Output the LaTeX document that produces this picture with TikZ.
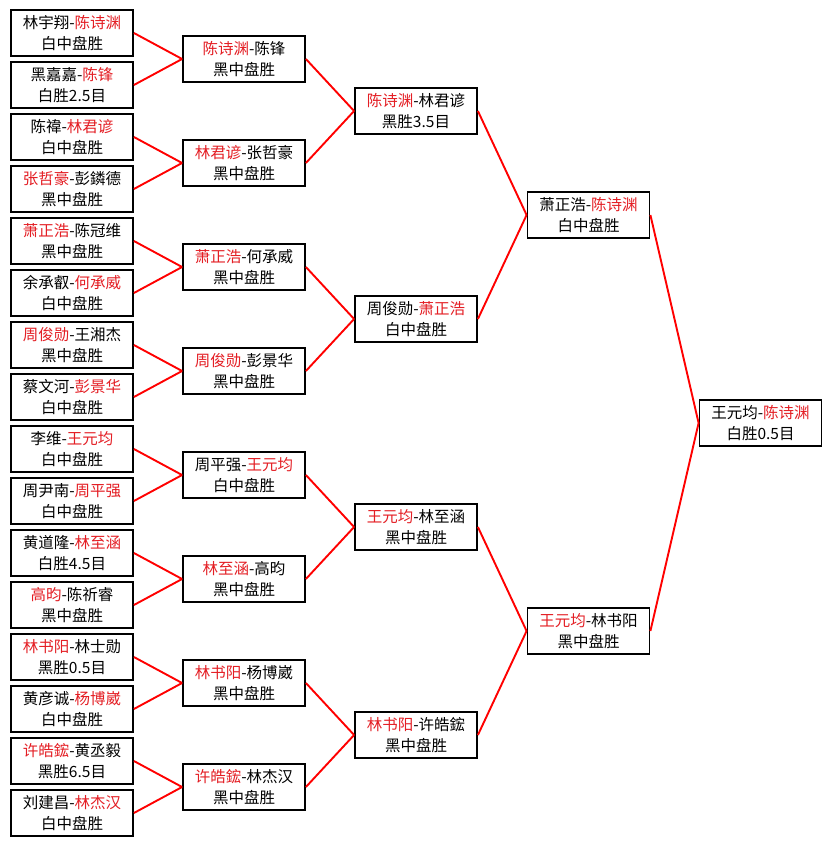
\documentclass[tikz,border=0pt]{standalone}
\usepackage{fontspec}
\setmainfont{Noto Sans CJK SC}
\usepackage{xcolor}
\usepackage{tikz}

\definecolor{winred}{RGB}{228,30,36}
\newcommand{\win}[1]{\textcolor{winred}{#1}}

\begin{document}
\begin{tikzpicture}[x=1pt,y=-1pt,
		match/.style={draw=black,line width=1.8pt,fill=white,align=center,
			minimum width=122pt,minimum height=46pt,inner sep=0pt,
			font=\fontsize{15.5pt}{20.5pt}\selectfont},
		link/.style={draw=red,line width=1.9pt}]
		\useasboundingbox (0, 0) rectangle (832, 845);

		% first round
		\node[match] at (72, 33) (r1-1) {林宇翔-\win{陈诗渊} \\ 白中盘胜};
		\node[match] at (72, 85) (r1-2) {黑嘉嘉-\win{陈锋} \\ 白胜2.5目};
		\node[match] at (72, 137) (r1-3) {陈禕-\win{林君谚} \\ 白中盘胜};
		\node[match] at (72, 189) (r1-4) {\win{张哲豪}-彭鏻德 \\ 黑中盘胜};
		\node[match] at (72, 241) (r1-5) {\win{萧正浩}-陈冠维 \\ 黑中盘胜};
		\node[match] at (72, 293) (r1-6) {余承叡-\win{何承威} \\ 白中盘胜};
		\node[match] at (72, 345) (r1-7) {\win{周俊勋}-王湘杰 \\ 黑中盘胜};
		\node[match] at (72, 397) (r1-8) {蔡文河-\win{彭景华} \\ 白中盘胜};
		\node[match] at (72, 449) (r1-9) {李维-\win{王元均} \\ 白中盘胜};
		\node[match] at (72, 501) (r1-10) {周尹南-\win{周平强} \\ 白中盘胜};
		\node[match] at (72, 553) (r1-11) {黄道隆-\win{林至涵} \\ 白胜4.5目};
		\node[match] at (72, 605) (r1-12) {\win{高昀}-陈祈睿 \\ 黑中盘胜};
		\node[match] at (72, 657) (r1-13) {\win{林书阳}-林士勋 \\ 黑胜0.5目};
		\node[match] at (72, 709) (r1-14) {黄彦诚-\win{杨博崴} \\ 白中盘胜};
		\node[match] at (72, 761) (r1-15) {\win{许皓鋐}-黄丞毅 \\ 黑胜6.5目};
		\node[match] at (72, 813) (r1-16) {刘建昌-\win{林杰汉} \\ 白中盘胜};

		% second round
		\node[match] at (244, 59) (r2-1) {\win{陈诗渊}-陈锋 \\ 黑中盘胜};
		\node[match] at (244, 163) (r2-2) {\win{林君谚}-张哲豪 \\ 黑中盘胜};
		\node[match] at (244, 267) (r2-3) {\win{萧正浩}-何承威 \\ 黑中盘胜};
		\node[match] at (244, 371) (r2-4) {\win{周俊勋}-彭景华 \\ 黑中盘胜};
		\node[match] at (244, 475) (r2-5) {周平强-\win{王元均} \\ 白中盘胜};
		\node[match] at (244, 579) (r2-6) {\win{林至涵}-高昀 \\ 黑中盘胜};
		\node[match] at (244, 683) (r2-7) {\win{林书阳}-杨博崴 \\ 黑中盘胜};
		\node[match] at (244, 787) (r2-8) {\win{许皓鋐}-林杰汉 \\ 黑中盘胜};

		% quarter finals
		\node[match] at (416, 111) (r3-1) {\win{陈诗渊}-林君谚 \\ 黑胜3.5目};
		\node[match] at (416, 319) (r3-2) {周俊勋-\win{萧正浩} \\ 白中盘胜};
		\node[match] at (416, 527) (r3-3) {\win{王元均}-林至涵 \\ 黑中盘胜};
		\node[match] at (416, 735) (r3-4) {\win{林书阳}-许皓鋐 \\ 黑中盘胜};

		% semi finals and final
		\node[match] at (588.5, 215) (r4-1) {萧正浩-\win{陈诗渊} \\ 白中盘胜};
		\node[match] at (588.5, 631) (r4-2) {\win{王元均}-林书阳 \\ 黑中盘胜};
		\node[match] at (760.5, 423) (final) {王元均-\win{陈诗渊} \\ 白胜0.5目};

		\draw[link] (r1-1.east) -- (r2-1.west);
		\draw[link] (r1-2.east) -- (r2-1.west);
		\draw[link] (r1-3.east) -- (r2-2.west);
		\draw[link] (r1-4.east) -- (r2-2.west);
		\draw[link] (r1-5.east) -- (r2-3.west);
		\draw[link] (r1-6.east) -- (r2-3.west);
		\draw[link] (r1-7.east) -- (r2-4.west);
		\draw[link] (r1-8.east) -- (r2-4.west);
		\draw[link] (r1-9.east) -- (r2-5.west);
		\draw[link] (r1-10.east) -- (r2-5.west);
		\draw[link] (r1-11.east) -- (r2-6.west);
		\draw[link] (r1-12.east) -- (r2-6.west);
		\draw[link] (r1-13.east) -- (r2-7.west);
		\draw[link] (r1-14.east) -- (r2-7.west);
		\draw[link] (r1-15.east) -- (r2-8.west);
		\draw[link] (r1-16.east) -- (r2-8.west);

		\draw[link] (r2-1.east) -- (r3-1.west);
		\draw[link] (r2-2.east) -- (r3-1.west);
		\draw[link] (r2-3.east) -- (r3-2.west);
		\draw[link] (r2-4.east) -- (r3-2.west);
		\draw[link] (r2-5.east) -- (r3-3.west);
		\draw[link] (r2-6.east) -- (r3-3.west);
		\draw[link] (r2-7.east) -- (r3-4.west);
		\draw[link] (r2-8.east) -- (r3-4.west);

		\draw[link] (r3-1.east) -- (r4-1.west);
		\draw[link] (r3-2.east) -- (r4-1.west);
		\draw[link] (r3-3.east) -- (r4-2.west);
		\draw[link] (r3-4.east) -- (r4-2.west);

		\draw[link] (r4-1.east) -- (final.west);
		\draw[link] (r4-2.east) -- (final.west);
	\end{tikzpicture}
\end{document}
